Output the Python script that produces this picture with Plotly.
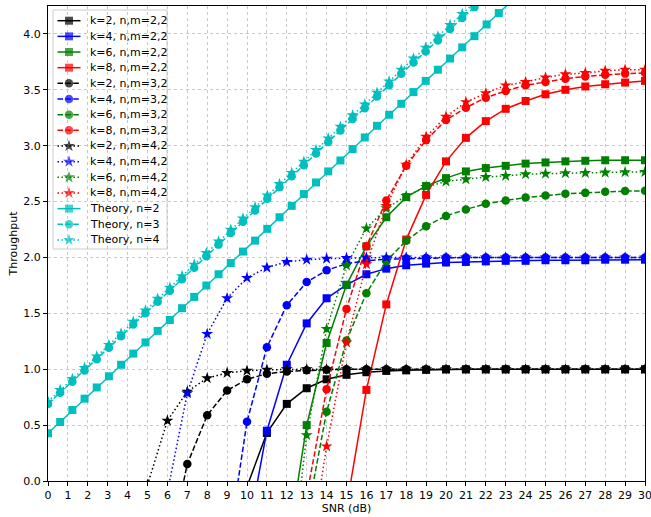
import plotly.graph_objects as go

snr = list(range(0, 31))
N = None

# k = 2,4,6,8 ; n,m = 2,2 (solid, squares)
k2_22 = [N]*10 + [-0.05, 0.43, 0.69, 0.83, 0.91, 0.95, 0.973, 0.985, 0.99, 0.995, 1.0, 1.0, 1.0, 1.0, 1.0, 1.0, 1.0, 1.0, 1.0, 1.0, 1.0]
k4_22 = [N]*10 + [-0.51, 0.45, 1.04, 1.41, 1.635, 1.755, 1.85, 1.90, 1.93, 1.945, 1.955, 1.96, 1.965, 1.97, 1.97, 1.975, 1.975, 1.975, 1.98, 1.98, 1.98]
k6_22 = [N]*12 + [-0.64, 0.50, 1.235, 1.755, 2.10, 2.36, 2.54, 2.64, 2.71, 2.77, 2.80, 2.82, 2.84, 2.85, 2.86, 2.865, 2.87, 2.87, 2.87]
k8_22 = [N]*15 + [-0.23, 0.815, 1.58, 2.16, 2.56, 2.86, 3.07, 3.22, 3.33, 3.40, 3.46, 3.50, 3.53, 3.55, 3.565, 3.58]

# n,m = 3,2 (dashed, circles)
k2_32 = [N]*6 + [-0.69, 0.152, 0.588, 0.81, 0.91, 0.96, 0.98, 0.99, 0.995, 1.0, 1.0, 1.0, 1.0, 1.0, 1.0, 1.0, 1.0, 1.0, 1.0, 1.0, 1.0, 1.0, 1.0, 1.0, 1.0]
k4_32 = [N]*9 + [-0.65, 0.53, 1.197, 1.573, 1.78, 1.885, 1.945, 1.97, 1.985, 1.99, 1.995, 2.0, 2.0, 2.0, 2.0, 2.0, 2.0, 2.0, 2.0, 2.0, 2.0, 2.0]
k6_32 = [N]*13 + [-0.33, 0.62, 1.256, 1.68, 1.967, 2.15, 2.28, 2.372, 2.43, 2.48, 2.51, 2.536, 2.554, 2.57, 2.578, 2.587, 2.594, 2.596]
k8_32 = [N]*13 + [-0.13, 0.82, 1.54, 2.10, 2.51, 2.82, 3.05, 3.23, 3.34, 3.43, 3.49, 3.54, 3.57, 3.60, 3.62, 3.635, 3.645, 3.65]

# n,m = 4,2 (dotted, stars)
k2_42 = [N]*5 + [-0.034, 0.54, 0.80, 0.92, 0.967, 0.987, 0.995, 1.0, 1.0, 1.0, 1.0, 1.0, 1.0, 1.0, 1.0, 1.0, 1.0, 1.0, 1.0, 1.0, 1.0, 1.0, 1.0, 1.0, 1.0, 1.0]
k4_42 = [N]*6 + [-0.10, 0.785, 1.316, 1.635, 1.817, 1.91, 1.96, 1.98, 1.99, 1.995, 2.0, 2.0, 2.0, 2.0, 2.0, 2.0, 2.0, 2.0, 2.0, 2.0, 2.0, 2.0, 2.0, 2.0, 2.0]
k6_42 = [N]*12 + [-1.11, 0.41, 1.36, 1.93, 2.26, 2.44, 2.55, 2.63, 2.68, 2.70, 2.72, 2.73, 2.745, 2.75, 2.755, 2.757, 2.76, 2.764, 2.765]
k8_42 = [N]*13 + [-0.84, 0.31, 1.24, 1.94, 2.46, 2.83, 3.08, 3.26, 3.39, 3.47, 3.54, 3.57, 3.61, 3.64, 3.65, 3.67, 3.68, 3.68]

# Theory curves
snr_th = [0, 0.612, 1.224, 1.837, 2.449, 3.061, 3.673, 4.286, 4.898, 5.51, 6.122, 6.735,
          7.347, 7.959, 8.571, 9.184, 9.796, 10.408, 11.02, 11.633, 12.245, 12.857, 13.469,
          14.082, 14.694, 15.306, 15.918, 16.531, 17.143, 17.755, 18.367, 18.98, 19.592,
          20.204, 20.816, 21.429, 22.041, 22.653, 23.265]
th_n2 = [0.427, 0.528, 0.635, 0.737, 0.837, 0.937, 1.04, 1.14, 1.24, 1.343, 1.441, 1.546,
         1.647, 1.749, 1.85, 1.95, 2.053, 2.151, 2.256, 2.36, 2.462, 2.567, 2.671, 2.77,
         2.868, 2.97, 3.074, 3.178, 3.277, 3.375, 3.48, 3.58, 3.68, 3.78, 3.88, 3.98,
         4.085, 4.187, 4.29]
th_n3 = [0.69, 0.79, 0.889, 0.988, 1.09, 1.193, 1.295, 1.40, 1.50, 1.603, 1.703, 1.805,
         1.908, 2.012, 2.115, 2.22, 2.32, 2.42, 2.525, 2.628, 2.726, 2.826, 2.93, 3.033,
         3.137, 3.24, 3.336, 3.44, 3.54, 3.644, 3.745, 3.843, 3.942, 4.044, 4.142, 4.24, 4.34]
th_n4 = [0.71, 0.815, 0.913, 1.012, 1.115, 1.218, 1.32, 1.425, 1.526, 1.63, 1.73, 1.833,
         1.936, 2.04, 2.143, 2.248, 2.349, 2.45, 2.555, 2.658, 2.757, 2.857, 2.962, 3.065,
         3.17, 3.273, 3.37, 3.474, 3.575, 3.679, 3.78, 3.878, 3.977, 4.08, 4.178, 4.277, 4.38]

x_ticks = list(range(0, 31))
y_ticks = [0.0, 0.5, 1.0, 1.5, 2.0, 2.5, 3.0, 3.5, 4.0]

BLACK, BLUE, GREEN, RED, CYAN = "#000000", "#0000ff", "#008000", "#ff0000", "#00bfbf"
SOLID, DASHED, DOTTED = "solid", "5.5px,2.4px", "1.5px,2.5px"

series = [
    ("k=2, n,m=2,2", snr, k2_22, BLACK, SOLID, "square"),
    ("k=4, n,m=2,2", snr, k4_22, BLUE, SOLID, "square"),
    ("k=6, n,m=2,2", snr, k6_22, GREEN, SOLID, "square"),
    ("k=8, n,m=2,2", snr, k8_22, RED, SOLID, "square"),
    ("k=2, n,m=3,2", snr, k2_32, BLACK, DASHED, "circle"),
    ("k=4, n,m=3,2", snr, k4_32, BLUE, DASHED, "circle"),
    ("k=6, n,m=3,2", snr, k6_32, GREEN, DASHED, "circle"),
    ("k=8, n,m=3,2", snr, k8_32, RED, DASHED, "circle"),
    ("k=2, n,m=4,2", snr, k2_42, BLACK, DOTTED, "star"),
    ("k=4, n,m=4,2", snr, k4_42, BLUE, DOTTED, "star"),
    ("k=6, n,m=4,2", snr, k6_42, GREEN, DOTTED, "star"),
    ("k=8, n,m=4,2", snr, k8_42, RED, DOTTED, "star"),
    ("Theory, n=2", snr_th, th_n2, CYAN, SOLID, "square"),
    ("Theory, n=3", snr_th[:len(th_n3)], th_n3, CYAN, DASHED, "circle"),
    ("Theory, n=4", snr_th[:len(th_n4)], th_n4, CYAN, DOTTED, "star"),
]

MSIZE = {"square": 8, "circle": 8.5, "star": 9}

# plot area in pixels
W, H = 651, 517
L, R, T, B = 48, 6, 6, 36
PW, PH = W - L - R, H - T - B

def px2x(px):
    return (px - L) / PW

def py2y(py):
    return (H - B - py) / PH

fig = go.Figure()
for name, xs, ys, col, dash, sym in series:
    fig.add_trace(go.Scatter(
        x=xs, y=ys, name=name, mode="lines+markers", showlegend=False,
        line=dict(color=col, width=1.5, dash=dash),
        marker=dict(symbol=sym, size=MSIZE[sym], color=col, line=dict(width=0)),
    ))

# ---- matplotlib-style compact legend (drawn on an overlay 0..1 axis) ----
leg_left, leg_top, leg_right, leg_bottom = 53, 10, 167, 249
row0, row_gap = 20.7, 15.66
seg_x0, seg_x1, txt_x = 57.5, 80.5, 88

shapes = [dict(type="rect", xref="paper", yref="paper", layer="between",
               x0=px2x(leg_left), x1=px2x(leg_right),
               y0=py2y(leg_bottom), y1=py2y(leg_top),
               line=dict(color="#cccccc", width=1), fillcolor="white")]
annotations = []
for i, (name, xs, ys, col, dash, sym) in enumerate(series):
    yy = py2y(row0 + i * row_gap)
    fig.add_trace(go.Scatter(
        x=[px2x(seg_x0), px2x((seg_x0 + seg_x1) / 2), px2x(seg_x1)], y=[yy, yy, yy],
        mode="lines+markers", showlegend=False, hoverinfo="skip",
        xaxis="x2", yaxis="y2",
        line=dict(color=col, width=1.5, dash=dash),
        marker=dict(symbol=sym, size=[0, MSIZE[sym], 0], color=col, line=dict(width=0)),
    ))
    annotations.append(dict(
        text=name, xref="paper", yref="paper", x=px2x(txt_x), y=yy,
        xanchor="left", yanchor="middle", showarrow=False,
        font=dict(size=11, color="black", family="DejaVu Sans"),
    ))

axis_common = dict(
    showline=True, linecolor="black", linewidth=1, mirror=True,
    ticks="outside", ticklen=4, tickcolor="black",
    showgrid=True, gridcolor="#c8c8c8", griddash="dot", gridwidth=1,
    zeroline=False, tickfont=dict(size=11, color="black"), automargin=False,
    ticklabeloverflow="allow",
)

fig.update_layout(
    width=W, height=H,
    margin=dict(l=L, r=R, t=T, b=B),
    paper_bgcolor="white", plot_bgcolor="white",
    font=dict(family="DejaVu Sans", size=11, color="black"),
    xaxis=dict(range=[0, 30], tickvals=x_ticks,
               title=dict(text="SNR (dB)", font=dict(size=11), standoff=0),
               **axis_common),
    yaxis=dict(range=[0, 4.25], tickvals=y_ticks, tickformat=".1f",
               title=dict(text="Throughput", font=dict(size=11), standoff=3),
               **axis_common),
    xaxis2=dict(range=[0, 1], overlaying="x", visible=False, anchor="y2", fixedrange=True),
    yaxis2=dict(range=[0, 1], overlaying="y", visible=False, anchor="x2", fixedrange=True),
    shapes=shapes,
    annotations=annotations,
    showlegend=False,
)

fig.write_html("out.html", config={"displayModeBar": False},
               post_script="document.body.style.margin='0';document.body.style.padding='0';")
